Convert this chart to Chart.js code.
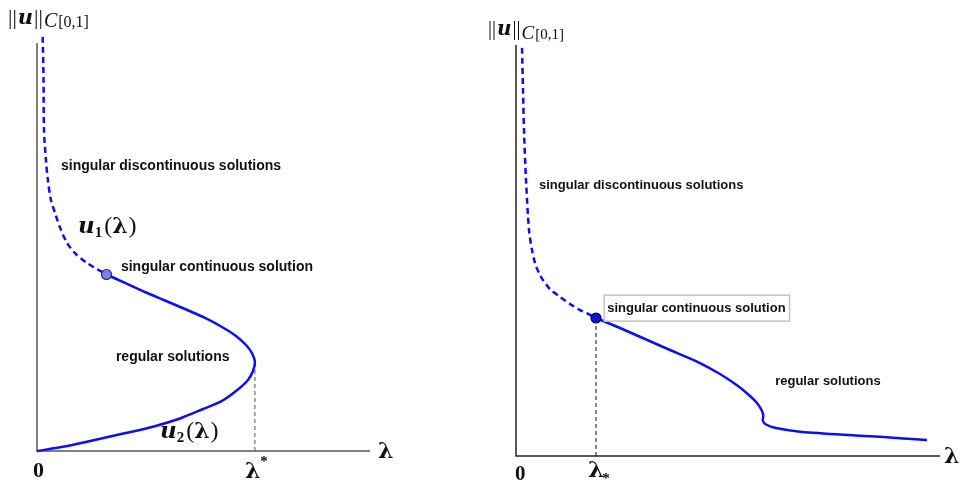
<!DOCTYPE html>
<html>
<head>
<meta charset="utf-8">
<script src="https://cdn.jsdelivr.net/npm/chart.js@4.4.1/dist/chart.umd.min.js"></script>
<style>
  html, body { margin: 0; padding: 0; background: #fff; }
  .panel { position: absolute; top: 0; }
  #leftPanel { left: 0; }
  #rightPanel { left: 481px; }
</style>
</head>
<body>
<div class="panel" id="leftPanel"><canvas id="leftChart" width="481" height="487"></canvas></div>
<div class="panel" id="rightPanel"><canvas id="rightChart" width="482" height="487"></canvas></div>
<script>
  // 左圖：λ* = 1，縱軸 0..10
  const LEFT_DASH_X = [0.026, 0.030, 0.032, 0.041, 0.050, 0.064, 0.083, 0.106, 0.138, 0.174, 0.229, 0.275, 0.319];
  const LEFT_DASH_Y = [10.15, 9.09, 7.87, 7.13, 6.64, 6.15, 5.83, 5.47, 5.10, 4.85, 4.61, 4.46, 4.33];
  // 正則解：上支 u1 到轉折點，再沿下支 u2 回到原點
  const LEFT_REG_X = [0.319, 0.404, 0.495, 0.587, 0.679, 0.771, 0.849, 0.913, 0.959, 0.986, 1.000,
                      0.991, 0.968, 0.919, 0.849, 0.757, 0.656, 0.532, 0.381, 0.229, 0.106, 0];
  const LEFT_REG_Y = [4.326, 4.118, 3.897, 3.689, 3.480, 3.260, 3.039, 2.819, 2.598, 2.402, 2.181,
                      1.961, 1.740, 1.495, 1.230, 1.017, 0.797, 0.596, 0.409, 0.228, 0.091, 0];
  const LEFT_SINGULAR_PT = [0.319, 4.326];
  const LEFT_TURN_PT = [1.0, 2.181];
  const LEFT_X_MAX = 1.528;

  // 右圖：λ_* = 1，縱軸 0..10
  const RIGHT_DASH_X = [0.075, 0.0875, 0.1, 0.125, 0.1625, 0.2, 0.2375, 0.2875, 0.3375, 0.425, 0.55, 0.675, 0.8, 0.9, 1.0];
  const RIGHT_DASH_Y = [9.93, 8.91, 7.93, 6.72, 5.50, 5.01, 4.70, 4.45, 4.28, 4.06, 3.87, 3.70, 3.55, 3.46, 3.358];
  const RIGHT_REG_X = [1.0, 1.3, 1.6125, 1.925, 2.275, 2.55, 2.775, 2.925, 3.0125, 3.069, 3.091, 3.085,
                       3.125, 3.25, 3.55, 4.05, 4.55, 5.1375];
  const RIGHT_REG_Y = [3.358, 3.114, 2.847, 2.579, 2.287, 1.995, 1.703, 1.460, 1.290, 1.119, 0.985, 0.864,
                       0.766, 0.681, 0.591, 0.523, 0.467, 0.389];
  const RIGHT_SINGULAR_PT = [1.0, 3.358];
  const RIGHT_X_MAX = 5.3;

  const Y_MAX = 10;

  const BLUE = 'rgb(14,14,240)';
  const SANS = '"Liberation Sans", Arial, sans-serif';
  const SERIF = '"Liberation Serif", "Times New Roman", serif';
  const MATH = '"DejaVu Serif", serif';

  function zipPoints(xs, ys) {
    return xs.map((x, i) => ({ x: x, y: ys[i] }));
  }

  // 依序畫出不同字型的文字片段（上下標用 dy）
  function drawRich(ctx, x, y, parts) {
    parts.forEach(p => {
      ctx.font = p.font;
      ctx.fillText(p.text, x + (p.dx || 0), y + (p.dy || 0));
      x += ctx.measureText(p.text).width + (p.dx || 0);
    });
  }

  function normParts(size, uSize, subSize, dySub) {
    return [
      { text: '||', font: size + 'px ' + SERIF },
      { text: 'u', font: 'italic bold ' + uSize + 'px ' + MATH, dx: 1 },
      { text: '||', font: size + 'px ' + SERIF, dx: 1 },
      { text: 'C', font: 'italic ' + (subSize + 4) + 'px ' + SERIF, dy: dySub, dx: 1 },
      { text: '[0,1]', font: subSize + 'px ' + SERIF, dy: dySub, dx: 1 }
    ];
  }

  function funcParts(sub) {
    return [
      { text: 'u', font: 'italic bold 23px ' + MATH },
      { text: sub, font: 'bold 15px ' + SERIF, dy: 4 },
      { text: '(', font: '24px ' + SERIF, dx: 2 },
      { text: 'λ', font: 'bold 22px ' + MATH },
      { text: ')', font: '24px ' + SERIF, dx: 1 }
    ];
  }

  // 軸線：從比例尺取得端點
  const axesPlugin = {
    id: 'axesLines',
    beforeDatasetsDraw(chart) {
      const cfg = chart.options.plugins.axesLines;
      const ctx = chart.ctx;
      const xs = chart.scales.x, ys = chart.scales.y;
      const x0 = xs.getPixelForValue(0), x1 = xs.getPixelForValue(xs.max);
      const y0 = ys.getPixelForValue(0), y1 = ys.getPixelForValue(ys.max);
      ctx.save();
      ctx.strokeStyle = cfg.color;
      ctx.lineWidth = cfg.width;
      ctx.beginPath();
      ctx.moveTo(x0, y1);
      ctx.lineTo(x0, y0);
      ctx.lineTo(x1, y0);
      ctx.stroke();
      ctx.restore();
    }
  };

  // 文字標註與刻度符號
  const labelsPlugin = {
    id: 'textLabels',
    afterDatasetsDraw(chart) {
      const cfg = chart.options.plugins.textLabels;
      const ctx = chart.ctx;
      const xs = chart.scales.x, ys = chart.scales.y;
      ctx.save();
      ctx.fillStyle = '#111';
      ctx.textBaseline = 'alphabetic';
      ctx.textAlign = 'left';

      cfg.notes.forEach(n => {
        const px = xs.getPixelForValue(n.x), py = ys.getPixelForValue(n.y);
        if (n.box) {
          ctx.font = n.font;
          const w = ctx.measureText(n.text).width;
          ctx.fillStyle = '#fff';
          ctx.fillRect(px - 3, py - 17, w + 7, 26);
          ctx.strokeStyle = '#c4c4c4';
          ctx.lineWidth = 1.5;
          ctx.strokeRect(px - 3, py - 17, w + 7, 26);
          ctx.fillStyle = '#111';
        }
        if (n.parts) {
          drawRich(ctx, px, py, n.parts);
        } else {
          ctx.font = n.font;
          ctx.fillText(n.text, px, py);
        }
      });

      // 橫軸下方的刻度符號
      const base = ys.getPixelForValue(0);
      cfg.ticks.forEach(t => {
        drawRich(ctx, xs.getPixelForValue(t.value) + t.dx, base + t.dy, t.parts);
      });

      // 軸名
      const axisEnd = xs.getPixelForValue(xs.max);
      drawRich(ctx, axisEnd + cfg.lambda.dx, base + cfg.lambda.dy, [{ text: 'λ', font: cfg.lambda.font }]);
      const yTop = ys.getPixelForValue(ys.max);
      drawRich(ctx, xs.getPixelForValue(0) + cfg.title.dx, yTop + cfg.title.dy, cfg.title.parts);
      ctx.restore();
    }
  };

  function buildChart(canvasId, o) {
    return new Chart(document.getElementById(canvasId), {
      type: 'scatter',
      data: {
        datasets: [
          {
            data: [{ x: o.point[0], y: o.point[1] }],
            pointRadius: 5, pointHoverRadius: 5,
            pointBackgroundColor: o.pointFill, pointBorderColor: o.pointEdge, pointBorderWidth: 1.2,
            showLine: false, clip: false
          },
          {
            data: zipPoints(o.dashX, o.dashY),
            showLine: true, borderColor: BLUE, borderWidth: 2.5, borderDash: [6, 4],
            pointRadius: 0, tension: 0.3, clip: false
          },
          {
            data: zipPoints(o.regX, o.regY),
            showLine: true, borderColor: BLUE, borderWidth: 2.5,
            pointRadius: 0, tension: o.tension, clip: false
          },
          {
            data: [{ x: o.guide[0], y: 0 }, { x: o.guide[0], y: o.guide[1] }],
            showLine: true, borderColor: o.guideColor, borderWidth: 1, borderDash: [4, 3],
            pointRadius: 0, clip: false
          }
        ]
      },
      options: {
        responsive: false,
        animation: false,
        devicePixelRatio: 1,
        layout: { padding: o.padding },
        scales: {
          x: { type: 'linear', min: 0, max: o.xMax, display: false },
          y: { type: 'linear', min: 0, max: Y_MAX, display: false }
        },
        plugins: {
          legend: { display: false },
          tooltip: { enabled: false },
          axesLines: { color: o.axisColor, width: 1.5 },
          textLabels: { notes: o.notes, ticks: o.ticks, lambda: o.lambda, title: o.title }
        }
      },
      plugins: [axesPlugin, labelsPlugin]
    });
  }

  buildChart('leftChart', {
    dashX: LEFT_DASH_X, dashY: LEFT_DASH_Y, regX: LEFT_REG_X, regY: LEFT_REG_Y,
    point: LEFT_SINGULAR_PT, guide: LEFT_TURN_PT, xMax: LEFT_X_MAX, tension: 0.3,
    pointFill: '#8282ee', pointEdge: '#2a2a6a', guideColor: '#555', axisColor: '#555',
    padding: { left: 37, right: 111, top: 43, bottom: 36 },
    notes: [
      { x: 0.110, y: 6.89, text: 'singular discontinuous solutions', font: 'bold 14px ' + SANS },
      { x: 0.188, y: 5.34, parts: funcParts('1') },
      { x: 0.385, y: 4.41, text: 'singular continuous solution', font: 'bold 14px ' + SANS },
      { x: 0.362, y: 2.21, text: 'regular solutions', font: 'bold 14px ' + SANS },
      { x: 0.564, y: 0.32, parts: funcParts('2') }
    ],
    ticks: [
      { value: 0, dx: -4, dy: 26, parts: [{ text: '0', font: 'bold 22px ' + SERIF }] },
      { value: 1, dx: -10, dy: 27, parts: [
        { text: 'λ', font: 'bold 22px ' + MATH },
        { text: '*', font: 'bold 15px ' + SERIF, dy: -12, dx: 0 }
      ] }
    ],
    lambda: { dx: 8, dy: 7, font: 'bold 22px ' + MATH },
    title: { dx: -29, dy: -19, parts: normParts(22, 21, 16, 3) }
  });

  buildChart('rightChart', {
    dashX: RIGHT_DASH_X, dashY: RIGHT_DASH_Y, regX: RIGHT_REG_X, regY: RIGHT_REG_Y,
    point: RIGHT_SINGULAR_PT, guide: RIGHT_SINGULAR_PT, xMax: RIGHT_X_MAX, tension: 0.2,
    pointFill: '#1212d8', pointEdge: '#00004a', guideColor: '#111', axisColor: '#222',
    padding: { left: 35, right: 23, top: 45, bottom: 31 },
    notes: [
      { x: 0.2875, y: 6.50, text: 'singular discontinuous solutions', font: 'bold 13px ' + SANS },
      { x: 1.14, y: 3.50, text: 'singular continuous solution', font: 'bold 13px ' + SANS, box: true },
      { x: 3.24, y: 1.73, text: 'regular solutions', font: 'bold 13px ' + SANS }
    ],
    ticks: [
      { value: 0, dx: -1, dy: 24, parts: [{ text: '0', font: 'bold 21px ' + SERIF }] },
      { value: 1, dx: -8, dy: 21, parts: [
        { text: 'λ', font: 'bold 23px ' + MATH },
        { text: '*', font: 'bold 15px ' + SERIF, dy: 6, dx: -2 }
      ] }
    ],
    lambda: { dx: 4, dy: 7, font: 'bold 22px ' + MATH },
    title: { dx: -28, dy: -10, parts: normParts(20, 20, 15, 4) }
  });
</script>
</body>
</html>
